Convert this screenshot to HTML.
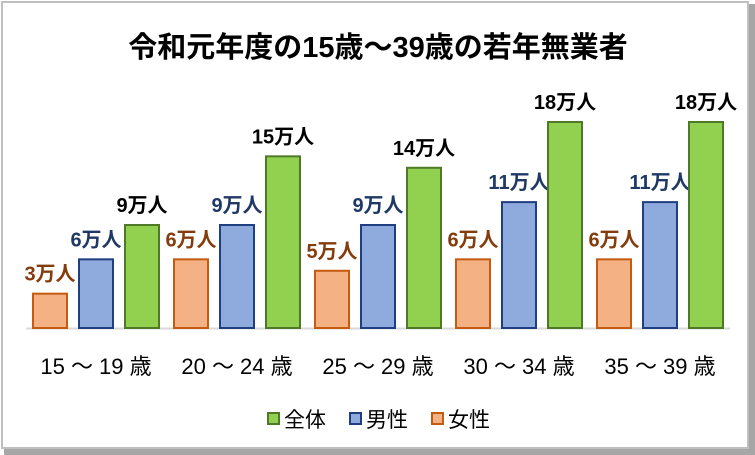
<!DOCTYPE html>
<html><head><meta charset="utf-8"><style>
body{margin:0;background:#fff;}
svg{display:block;font-family:"Liberation Sans","Noto Sans CJK JP",sans-serif;}
</style></head><body>
<svg width="755" height="455">
<rect x="0" y="0" width="755" height="455" fill="#fff"/>
<rect x="2" y="2" width="746" height="446" fill="#fff" stroke="#bfbfbf" stroke-width="2"/>
<rect x="749" y="4" width="6" height="451" fill="#a6a6a6"/>
<rect x="4" y="449" width="751" height="6" fill="#a6a6a6"/>
<text x="378" y="57" text-anchor="middle" font-size="29" font-weight="bold" fill="#000">令和元年度の15歳～39歳の若年無業者</text>
<line x1="26" y1="328.5" x2="730" y2="328.5" stroke="#d9d9d9" stroke-width="2"/>
<g id="bars"></g>
<g id="legend">
<rect x="268" y="413" width="11" height="11" fill="#92d050" stroke="#4e7a27" stroke-width="2"/>
<text x="284" y="427" font-size="21">全体</text>
<rect x="350" y="413" width="11" height="11" fill="#8faadc" stroke="#1f3f80" stroke-width="2"/>
<text x="366" y="427" font-size="21">男性</text>
<rect x="432" y="413" width="11" height="11" fill="#f4b183" stroke="#c55a11" stroke-width="2"/>
<text x="448" y="427" font-size="21">女性</text>
</g>
</svg>
<script>
const categories=["15 ～ 19 歳","20 ～ 24 歳","25 ～ 29 歳","30 ～ 34 歳","35 ～ 39 歳"];
const female=[3,6,5,6,6];
const male=[6,9,9,11,11];
const total=[9,15,14,18,18];
const baseY=328, unit=206/18, groupX0=32, groupW=141, barW=36, gap=10;
const y=v=>baseY-v*unit;
const ns="http://www.w3.org/2000/svg";
const g=document.getElementById("bars");
const series=[
 {name:"female",data:female,fill:"#f4b183",stroke:"#c55a11",lab:"#843c0c"},
 {name:"male",data:male,fill:"#8faadc",stroke:"#1f3f80",lab:"#1f3864"},
 {name:"total",data:total,fill:"#92d050",stroke:"#4e7a27",lab:"#000"}];
categories.forEach((c,i)=>{
 series.forEach((s,j)=>{
  const x=groupX0+i*groupW+j*(barW+gap);
  const r=document.createElementNS(ns,"rect");
  r.setAttribute("x",x+1);r.setAttribute("y",y(s.data[i]));
  r.setAttribute("width",barW-2);r.setAttribute("height",baseY-y(s.data[i]));
  r.setAttribute("fill",s.fill);r.setAttribute("stroke",s.stroke);r.setAttribute("stroke-width","2");
  
  
  g.appendChild(r);
  const t=document.createElementNS(ns,"text");
  t.setAttribute("x",x+barW/2);t.setAttribute("y",y(s.data[i])-13);
  t.setAttribute("text-anchor","middle");t.setAttribute("font-size","20");t.setAttribute("font-weight","bold");
  t.setAttribute("fill",s.lab);t.textContent=s.data[i]+"万人";
  
  
  g.appendChild(t);
 });
 const ct=document.createElementNS(ns,"text");
 ct.setAttribute("x",groupX0+i*groupW+(3*barW+2*gap)/2);ct.setAttribute("y",374);
 ct.setAttribute("text-anchor","middle");ct.setAttribute("font-size","22");
 ct.textContent=c;
 
 
 g.appendChild(ct);
});
</script>
</body></html>
